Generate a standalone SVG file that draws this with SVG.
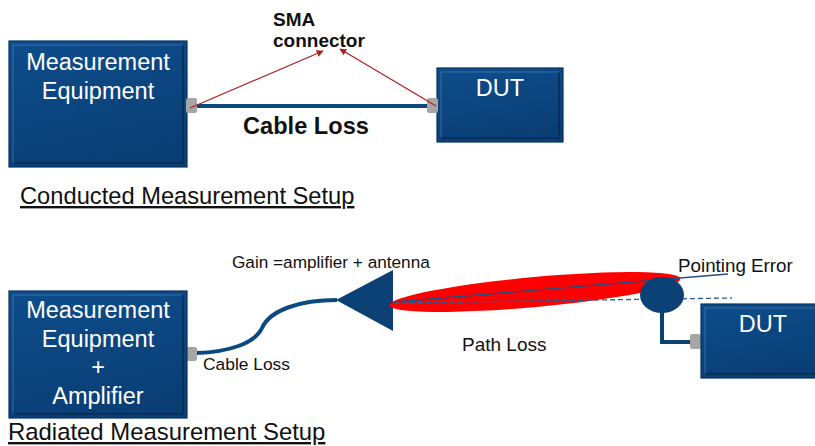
<svg xmlns="http://www.w3.org/2000/svg" width="815" height="446" viewBox="0 0 815 446">
  <defs>
    <linearGradient id="boxFill" x1="0" y1="0" x2="0.3" y2="1">
      <stop offset="0" stop-color="#0e4d8b"/>
      <stop offset="1" stop-color="#0a3f76"/>
    </linearGradient>
    <marker id="redHead" viewBox="0 0 10 10" refX="9" refY="5" markerWidth="7" markerHeight="7" orient="auto" markerUnits="userSpaceOnUse">
      <path d="M0,0 L10,5 L0,10 z" fill="#b01c1c"/>
    </marker>
  </defs>
  <style>
    .box { fill: url(#boxFill); stroke: #08335f; stroke-width: 1.2; }
    .hi { fill: none; stroke: #3d78b2; stroke-width: 1.5; opacity: 0.55; }
    .lo { fill: none; stroke: #062a50; stroke-width: 2; opacity: 0.7; }
    .port { fill: #a6a6a6; }
    .boxText { font-family: "Liberation Sans", Arial, sans-serif; font-size: 23.5px; fill: #ffffff; text-anchor: middle; }
    .cable { fill: none; stroke: #0b4a80; stroke-width: 4; stroke-linecap: butt; }
    .redArrow { stroke: #b01c1c; stroke-width: 1.2; fill: none; }
    .label { font-family: "Liberation Sans", Arial, sans-serif; fill: #111111; }
    .bold { font-weight: bold; }
  </style>

  <rect width="815" height="446" fill="#ffffff"/>

  <!-- Conducted setup -->
  <g id="meas-equipment-top">
    <rect class="box" x="9" y="41" width="178" height="126"/>
    <path class="hi" d="M13,163 V45 H183"/>
    <path class="lo" d="M13,163 H183 V45"/>
    <text class="boxText" x="98" y="70">Measurement</text>
    <text class="boxText" x="98" y="99">Equipment</text>
  </g>
  <g id="dut-top">
    <rect class="box" x="437" y="68" width="126" height="74"/>
    <path class="hi" d="M441,138 V72 H559"/>
    <path class="lo" d="M441,138 H559 V72"/>
    <text class="boxText" x="500" y="96">DUT</text>
  </g>

  <g id="connectors">
    <!-- conducted cable -->
    <line class="cable" x1="196" y1="106" x2="429" y2="106"/>
    <rect class="port" x="186" y="98" width="11" height="15" rx="2"/>
    <rect class="port" x="427" y="98" width="11" height="15" rx="2"/>
    <!-- SMA connector pointers -->
    <line class="redArrow" x1="190" y1="108" x2="323" y2="51" marker-end="url(#redHead)"/>
    <line class="redArrow" x1="436" y1="106" x2="340" y2="49" marker-end="url(#redHead)"/>

    <!-- radiated cable -->
    <path class="cable" d="M196,353 C230,352 255,343 262,328 C270,310 300,300 337,300"/>
    <rect class="port" x="186" y="347" width="11" height="14" rx="2"/>
  </g>

  <text class="label bold" x="273" y="26" font-size="19">SMA</text>
  <text class="label bold" x="273" y="47" font-size="19">connector</text>
  <text class="label bold" x="243" y="134" font-size="23.6">Cable Loss</text>
  <text class="label" x="20" y="204" font-size="23.7" text-decoration="underline">Conducted Measurement Setup</text>

  <!-- Radiated setup -->
  <g id="meas-equipment-bottom">
    <rect class="box" x="9" y="291" width="178" height="127"/>
    <path class="hi" d="M13,414 V295 H183"/>
    <path class="lo" d="M13,414 H183 V295"/>
    <text class="boxText" x="98" y="318">Measurement</text>
    <text class="boxText" x="98" y="347">Equipment</text>
    <text class="boxText" x="98" y="375">+</text>
    <text class="boxText" x="98" y="404">Amplifier</text>
  </g>

  <g id="antenna">
    <polygon points="336,300 393,270 393,331" fill="#0b4174"/>
  </g>

  <g id="beam">
    <ellipse cx="535" cy="292" rx="146" ry="15" transform="rotate(-5.2 535 292)" fill="#ff0000"/>
    <line x1="394" y1="302" x2="728" y2="274" stroke="#1f4e85" stroke-width="1.3"/>
    <line x1="394" y1="303" x2="732" y2="298" stroke="#2a5d9a" stroke-width="1.3" stroke-dasharray="5 3"/>
  </g>

  <g id="dut-antenna">
    <path d="M662,310 V342 H692" fill="none" stroke="#0b4174" stroke-width="4"/>
    <ellipse cx="662" cy="295" rx="22" ry="18" fill="#0b4174"/>
    <rect class="port" x="690" y="334" width="11" height="15" rx="2"/>
  </g>

  <g id="dut-bottom">
    <rect class="box" x="701" y="304" width="120" height="74"/>
    <path class="hi" d="M705,374 V308 H815"/>
    <path class="lo" d="M705,374 H815"/>
    <text class="boxText" x="763" y="332">DUT</text>
  </g>

  <text class="label" x="232" y="268" font-size="17.2">Gain =amplifier + antenna</text>
  <text class="label" x="678" y="272" font-size="18.8">Pointing Error</text>
  <text class="label" x="462" y="351" font-size="19">Path Loss</text>
  <text class="label" x="203" y="370" font-size="17.4">Cable Loss</text>
  <text class="label" x="8" y="440" font-size="23.9" text-decoration="underline">Radiated Measurement Setup</text>
</svg>
